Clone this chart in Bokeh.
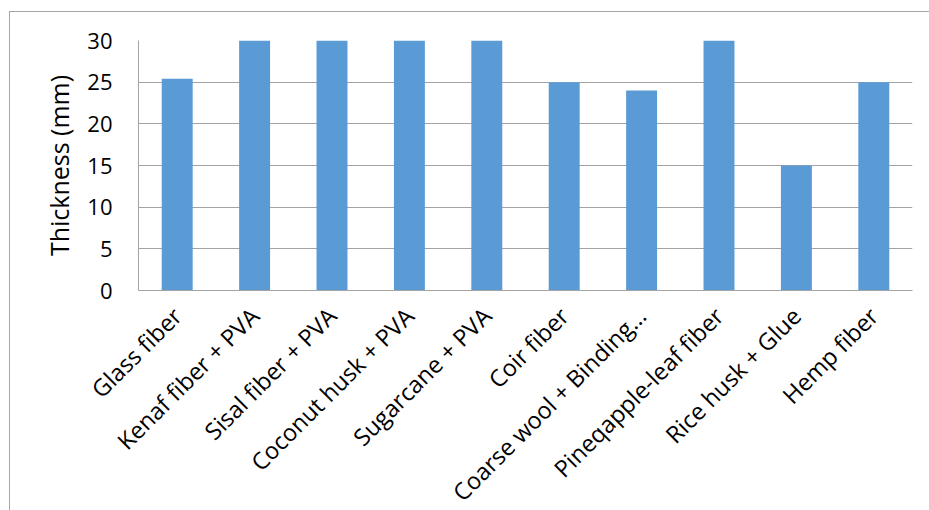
from bokeh.plotting import figure
from bokeh.models import FactorRange, Range1d, FixedTicker
from bokeh.embed import file_html
from bokeh.resources import INLINE
import math

# Insulation materials and their panel thickness (mm)
materials = [
    "Glass fiber",
    "Kenaf fiber + PVA",
    "Sisal fiber + PVA",
    "Coconut husk + PVA",
    "Sugarcane + PVA",
    "Coir fiber",
    "Coarse wool + Binding\u2026",
    "Pineqapple-leaf fiber",
    "Rice husk + Glue",
    "Hemp fiber",
]
thickness_mm = [25.4, 30, 30, 30, 30, 25, 24, 30, 15, 25]
y_ticks = [0, 5, 10, 15, 20, 25, 30]

FONT = "Open Sans"
GRID = "#a3a3a3"

p = figure(
    x_range=FactorRange(*materials),
    y_range=Range1d(0, 30),
    frame_width=774,
    frame_height=250,
    output_backend="svg",
    toolbar_location=None,
    min_border_left=128,
    min_border_right=17,
    min_border_top=28,
    min_border_bottom=200,
    margin=(11, 0, 0, 9),
)
p.styles = {
    "border-left": "1px solid #a6a6a6",
    "border-top": "1px solid #a6a6a6",
}

p.vbar(x=materials, top=thickness_mm, width=0.4, color="#5b9bd5", line_color=None)

p.outline_line_color = None
p.background_fill_color = "white"
p.border_fill_color = "white"

p.xgrid.grid_line_color = None
p.ygrid.grid_line_color = GRID
p.ygrid.grid_line_width = 1

p.yaxis.ticker = FixedTicker(ticks=y_ticks)
p.yaxis.axis_label = "Thickness (mm)"
p.yaxis.axis_label_text_font = FONT
p.yaxis.axis_label_text_font_size = "25px"
p.yaxis.axis_label_text_font_style = "normal"
p.yaxis.axis_label_text_color = "black"
p.yaxis.axis_label_standoff = 8
p.yaxis.major_label_standoff = 20
p.yaxis.major_label_text_font_size = "22px"

p.xaxis.major_label_orientation = math.pi / 4
p.xaxis.major_label_standoff = 15
p.xaxis.major_label_text_font_size = "23.5px"

for ax in (p.xaxis, p.yaxis):
    ax.axis_line_color = GRID
    ax.major_tick_line_color = None
    ax.minor_tick_line_color = None
    ax.major_label_text_font = FONT
    ax.major_label_text_color = "black"

open("out.html", "w").write(file_html(p, INLINE))
